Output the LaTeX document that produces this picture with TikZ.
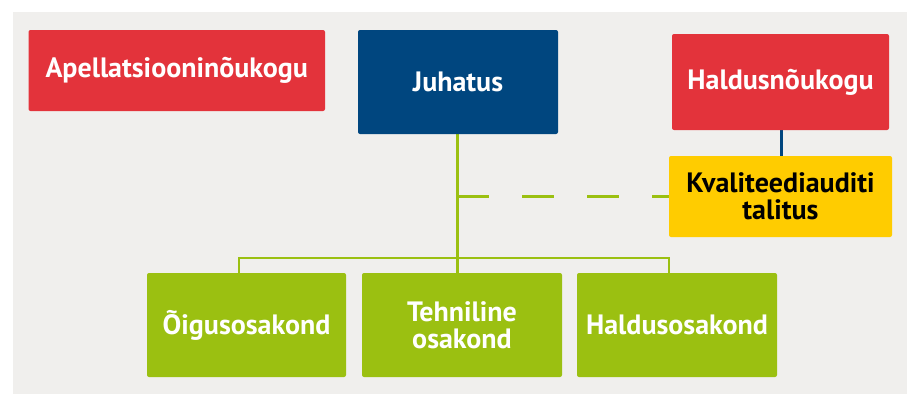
\documentclass[tikz,border=0pt]{standalone}
\usepackage{fontspec}
\setmainfont{PT Sans}
\definecolor{cred}{HTML}{E3333B}
\definecolor{cblue}{HTML}{00467F}
\definecolor{cyel}{HTML}{FFCC00}
\definecolor{cgreen}{HTML}{9BC011}
\definecolor{cbg}{HTML}{F0EFED}
\begin{document}
\begin{tikzpicture}[x=1pt,y=-1pt,
  box/.style={rounded corners=2pt, inner sep=0pt, font=\fontsize{28}{27}\selectfont\bfseries, align=center, text=white},
  gline/.style={cgreen, line width=3pt},
]
\useasboundingbox (0,0) rectangle (912,394);
\fill[white] (0,0) rectangle (912,394);
\fill[cbg] (13,12) rectangle (907,394);
% lines first
\draw[gline] (457,134) -- (457,273);
\draw[gline, line width=2.4pt] (239,273) -- (239,258) -- (669,258) -- (669,273);
\draw[gline, dash pattern=on 32pt off 33pt] (457,196) -- (669,196);
\draw[cblue, line width=3pt] (781,130) -- (781,156);
% boxes
\fill[cred, rounded corners=2pt] (28.5,30) rectangle (325,111);
\node[box] (a) at ({(28.5+325)/2},70.5) {Apellatsiooninõukogu};
\fill[cblue, rounded corners=2pt] (358,30) rectangle (558,134);
\node[box] (j) at (458,82) {Juhatus};
\fill[cred, rounded corners=2pt] (672,34) rectangle (889,130);
\node[box] (h) at (780.5,82) {Haldusnõukogu};
\fill[cyel, rounded corners=2pt] (669,156) rectangle (892,237);
\node[box, text=black] (k) at (780.5,196.5) {Kvaliteediauditi\\talitus};
\fill[cgreen, rounded corners=2pt] (147,273) rectangle (346,377);
\node[box] (o) at (246.5,325) {Õigusosakond};
\fill[cgreen, rounded corners=2pt] (362,273) rectangle (562,377);
\node[box] (t) at (462,325) {Tehniline\\osakond};
\fill[cgreen, rounded corners=2pt] (577,273) rectangle (777,377);
\node[box] (hs) at (677,325) {Haldusosakond};
\end{tikzpicture}
\end{document}
